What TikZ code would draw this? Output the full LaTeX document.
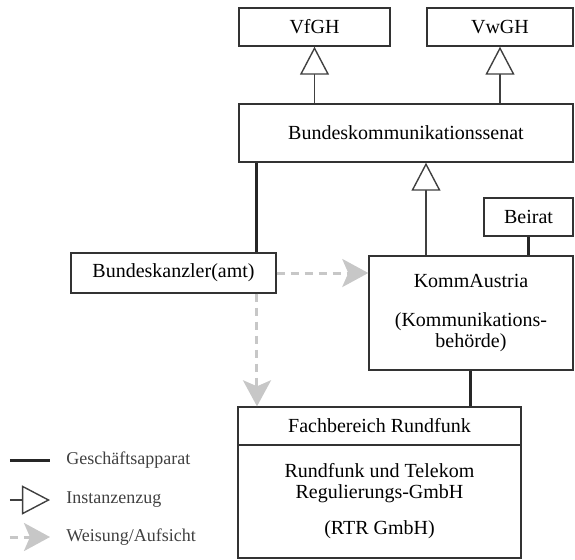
\documentclass[tikz,border=0pt]{standalone}
\usepackage{fontspec}
\setmainfont{Liberation Serif}
\usepackage{tikz}
\usetikzlibrary{arrows.meta}
\tikzstyle{box} = [rectangle, draw=black!80, line width=0.7pt, inner sep=0pt, align=center, font=\fontsize{10}{10.5}\selectfont]
\tikzstyle{legend} = [anchor=west, inner sep=2pt, text=black!75, font=\fontsize{9}{10}\selectfont]
\tikzstyle{business} = [line width=1.5pt, draw=black!85]
\tikzstyle{appeal} = [line width=0.7pt, draw=black!75, -{Triangle[open, length=14pt, width=14.5pt, fill=white]}]
\tikzstyle{order} = [line width=1.5pt, draw=black!22, dash pattern=on 4pt off 3pt, -{Stealth[length=13pt, width=14pt, inset=3pt, fill=black!22]}]

\begin{document}
\begin{tikzpicture}[x=0.5pt, y=-0.5pt]
        \useasboundingbox (0,0) rectangle (575,559);

        % upper courts
        \node (vfgh) [box, minimum width=75.5pt, minimum height=19pt] at (314.5,27) {VfGH};
        \node (vwgh) [box, minimum width=73pt, minimum height=19pt] at (500,27) {VwGH};
        \node (senat) [box, minimum width=167pt, minimum height=29pt] at (406,133) {Bundeskommunikationssenat};

        \node (beirat) [box, minimum width=44.5pt, minimum height=19pt] at (528.5,217) {Beirat};
        \node (kanzler) [box, minimum width=102.5pt, minimum height=20pt] at (173.5,273) {Bundeskanzler(amt)};
        \node (komm) [box, minimum width=102pt, minimum height=57pt] at (471,313) {KommAustria\\[9.5pt](Kommunikations-\\behörde)};

        % RTR
        \node (fach) [box, minimum width=141.5pt, minimum height=19pt] at (379.5,426) {Fachbereich Rundfunk};
        \node (rtr) [box, minimum width=141.5pt, minimum height=56.5pt] at (379.5,501.5) {Rundfunk und Telekom\\Regulierungs-GmbH\\[7.5pt](RTR GmbH)};

        \coordinate (kx) at (257,0);
        \coordinate (ax) at (426,0);

        \draw [appeal] (senat.north -| vfgh.south) -- (vfgh.south);
        \draw [appeal] (senat.north -| vwgh.south) -- (vwgh.south);
        \draw [appeal] (komm.north -| ax) -- (senat.south -| ax);
        \draw [business] (senat.south -| kx) -- (kanzler.north -| kx);
        \draw [business] (beirat.south) -- (beirat.south |- komm.north);
        \draw [business] (komm.south) -- (komm.south |- fach.north);
        \draw [order] (kanzler.east) -- (komm.west |- kanzler.east);
        \draw [order] (kanzler.south -| kx) -- (fach.north -| kx);

        % legend
        \node (lg1) [legend] at (62,460) {Geschäftsapparat};
        \node (lg2) [legend] at (62,500) {Instanzenzug};
        \node (lg3) [legend] at (62,537) {Weisung/Aufsicht};
        \coordinate (s1) at (10,460);
        \coordinate (s2) at (10,500);
        \coordinate (s3) at (10,537);
        \draw [business] (s1) -- ([xshift=-6pt]lg1.west);
        \draw [appeal] (s2) -- ([xshift=-6pt]lg2.west);
        \draw [order] (s3) -- ([xshift=-6pt]lg3.west);
    \end{tikzpicture}
\end{document}
